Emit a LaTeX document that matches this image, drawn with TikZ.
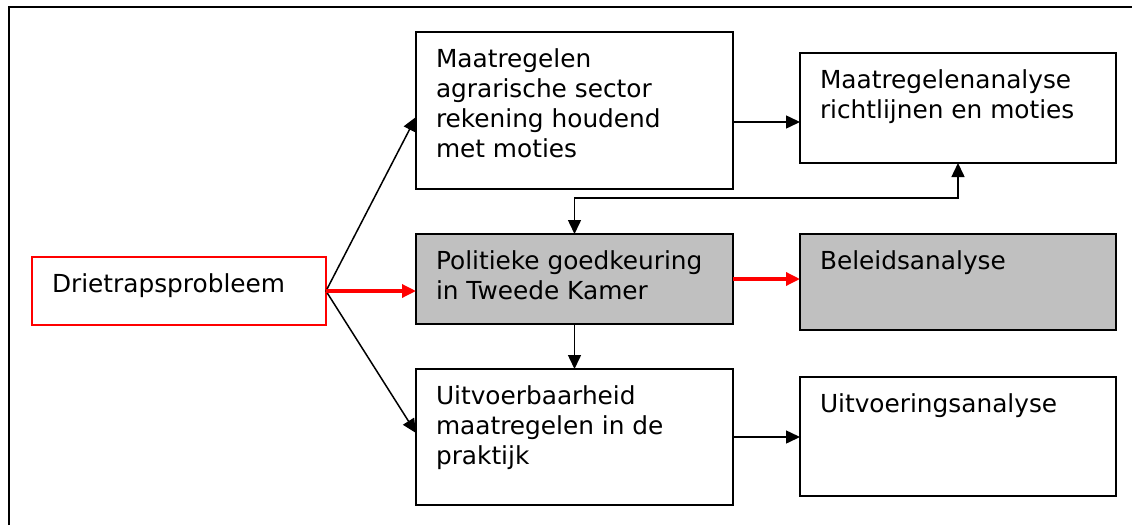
\documentclass[tikz,border=0pt]{standalone}
\usepackage{fontspec}
\setmainfont{DejaVu Sans}
\usetikzlibrary{arrows.meta}
\definecolor{panelgray}{HTML}{C0C0C0}
% box text: fixed width and height, first baseline 35.5pt below the top edge
\newcommand\paneltext[3]{\parbox[t][#2][t]{#1}{\raggedright\rule{0pt}{35.5pt}#3}}
\begin{document}
\begin{tikzpicture}[x=1pt,y=-1pt,
  panel/.style={draw=black, line width=2pt, inner xsep=20pt, inner ysep=0pt,
    outer sep=0pt, anchor=north west, font=\fontsize{24.8pt}{30pt}\selectfont},
  redpanel/.style={panel, draw=red},
  graypanel/.style={panel, fill=panelgray},
  tip/.style={-{Triangle[length=14pt,width=13pt]}},
  link/.style={tip, draw=black, line width=1.5pt},
  twoway/.style={{Triangle[length=14pt,width=13pt]}-{Triangle[length=14pt,width=13pt]}, draw=black, line width=1.5pt},
  hot/.style={tip, draw=red, line width=3.3pt}]

\fill[white] (0,0) rectangle (1132,525);
\useasboundingbox (0,0) rectangle (1132,525);

% outer frame (left and top edges)
\draw[line width=2.3pt] (9,525) -- (9,7) -- (1132,7);

% boxes
\node[redpanel] (drie) at (32,257) {\paneltext{254pt}{68pt}{Drietrapsprobleem}};
\node[panel] (a) at (416,32) {\paneltext{277pt}{157pt}{Maatregelen\\agrarische sector\\rekening houdend\\met moties}};
\node[panel] (b) at (800,53) {\paneltext{276pt}{110pt}{Maatregelenanalyse\\richtlijnen en moties}};
\node[graypanel] (c) at (416,234) {\paneltext{277pt}{90pt}{Politieke goedkeuring\\in Tweede Kamer}};
\node[graypanel] (d) at (800,234) {\paneltext{276pt}{96pt}{Beleidsanalyse}};
\node[panel] (e) at (416,369) {\paneltext{277pt}{136pt}{Uitvoerbaarheid\\maatregelen in de\\praktijk}};
\node[panel] (f) at (800,377) {\paneltext{276pt}{119pt}{Uitvoeringsanalyse}};

% connector end points off the box centres
\coordinate (aIn) at ([yshift=-6.5pt]a.west);
\coordinate (eIn) at ([yshift=4pt]e.west);
\coordinate (aOut) at ([yshift=-11.5pt]a.east);

% connectors
\draw[link] (drie.east) -- (aIn);
\draw[link] (drie.east) -- (eIn);
\draw[hot] (drie.east) -- (drie.east -| c.west);
\draw[hot] (c.east) -- (c.east -| d.west);
\draw[link] (aOut) -- (aOut -| b.west);
\draw[link] (e.east) -- (e.east -| f.west);
\draw[link] (c.south) -- (e.north);
\draw[twoway] (b.south) -- ++(0,35) -| (c.north);
\end{tikzpicture}
\end{document}
